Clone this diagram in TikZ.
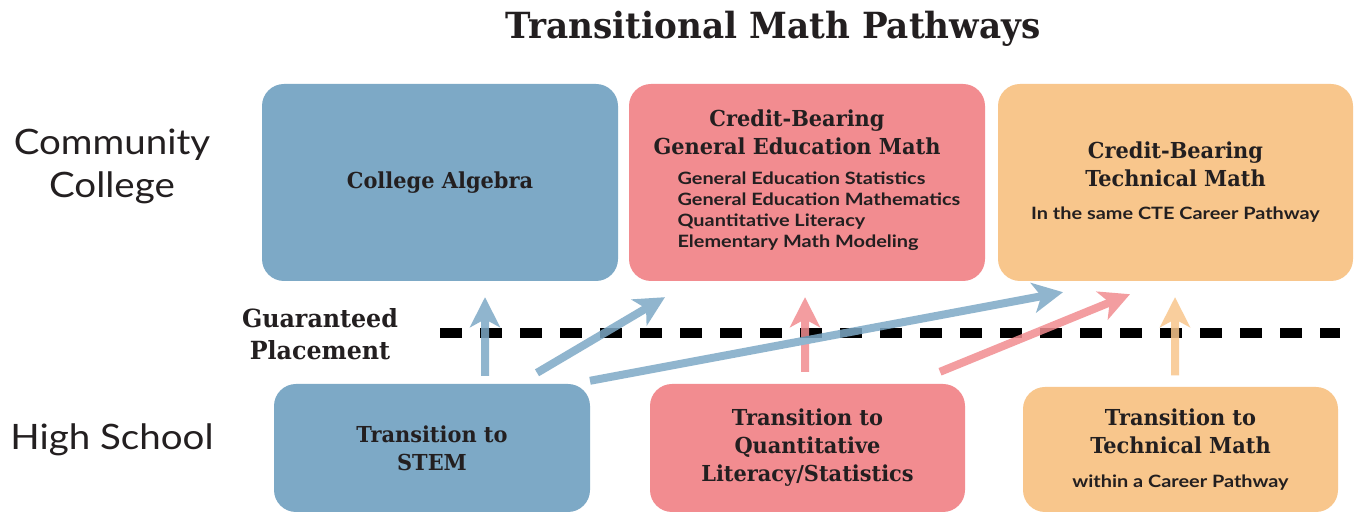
\documentclass[tikz,border=0pt]{standalone}
\usepackage{fontspec}
\usepackage{xcolor}
\usetikzlibrary{positioning,arrows.meta}
\newfontfamily\slabfont{DejaVu Serif}[FakeStretch=0.95]
\newfontfamily\listfont{Lato}[FakeStretch=1.17]
\newfontfamily\sidefont{Lato}[FakeStretch=1.1]
\definecolor{stemblue}{RGB}{125,169,198}
\definecolor{quantpink}{RGB}{242,140,144}
\definecolor{techorange}{RGB}{248,198,140}
\definecolor{inkbrown}{RGB}{35,31,32}

\begin{document}
\begin{tikzpicture}[x=1pt,y=1pt,
    path box/.style={rectangle,rounded corners=22pt,inner sep=0pt,align=center,text=inkbrown,
        font=\slabfont\bfseries\fontsize{22}{28}\selectfont},
    heading/.style={align=center,text=inkbrown,font=\slabfont\bfseries\fontsize{22}{28}\selectfont},
    sub text/.style={text=inkbrown,font=\listfont\bfseries\fontsize{17}{21}\selectfont},
    side label/.style={align=center,text=inkbrown,font=\sidefont\fontsize{35}{43}\selectfont},
    pathway/.style={-{Stealth[length=30pt,width=30pt,inset=8pt]},line width=8pt}]
\useasboundingbox (0,0) rectangle (1356,513);
\fill[white] (0,0) rectangle (1356,513);
%Title
    \node[heading,font=\slabfont\bfseries\fontsize{36}{40}\selectfont] (title) at (773,484) {Transitional Math Pathways};
%Row labels
    \node[side label] (cc) at (112,346.5) {Community\\College};
    \node[side label] (hs) at (112,73) {High School};
    \node[heading,font=\slabfont\bfseries\fontsize{25}{32}\selectfont] (gp) at (320,179) {Guaranteed\\Placement};
%Community college boxes
    \node[path box,fill=stemblue,minimum width=356pt,minimum height=197pt] (alg) at (440,330.5) {College Algebra};
    \node[path box,fill=quantpink,minimum width=356pt,minimum height=197pt] (gen) at (807,330.5) {};
    \node[heading] (genhead) at (797,381) {Credit-Bearing\\General Education Math};
    \node[sub text,align=left,anchor=west] (genlist) at (674,301.5) {General Education Statistics\\General Education Mathematics\\Quantitative Literacy\\Elementary Math Modeling};
    \node[path box,fill=techorange,minimum width=355pt,minimum height=197pt] (tech) at (1175.5,330.5)
        {Credit-Bearing\\Technical Math\\[5pt]{\listfont\bfseries\fontsize{17}{20}\selectfont In the same CTE Career Pathway}};
%High school boxes
    \node[path box,fill=stemblue,minimum width=316pt,minimum height=128pt] (stem) at (432,65) {Transition to\\STEM};
    \node[path box,fill=quantpink,minimum width=315pt,minimum height=128pt] (quant) at (807.5,65) {Transition to\\Quantitative\\Literacy/Statistics};
    \node[path box,fill=techorange,minimum width=315pt,minimum height=125pt] (techhs) at (1180.5,63.5)
        {Transition to\\Technical Math\\[6pt]{\listfont\bfseries\fontsize{17}{20}\selectfont within a Career Pathway}};
%Placement line
    \coordinate (dash start) at (440,180);
    \coordinate (dash end) at (1340,180);
    \draw[line width=10pt,dash pattern=on 22pt off 18pt] (dash start) -- (dash end);
%Pathways
\begin{scope}[opacity=0.85,transparency group]
    \draw[pathway,stemblue] ([xshift=53pt,yshift=8pt]stem.north) -- ([xshift=45pt,yshift=-16pt]alg.south);
    \draw[pathway,stemblue] ([xshift=105pt,yshift=11pt]stem.north) -- ([xshift=-142pt,yshift=-16pt]gen.south);
    \draw[pathway,quantpink] ([xshift=-2.5pt,yshift=12pt]quant.north) -- ([xshift=-2pt,yshift=-16pt]gen.south);
    \draw[pathway,quantpink] ([xshift=132.5pt,yshift=12pt]quant.north) -- ([xshift=-45.5pt,yshift=-13pt]tech.south);
    \draw[pathway,stemblue] ([xshift=158pt,yshift=3pt]stem.north) -- ([xshift=-112.5pt,yshift=-11pt]tech.south);
    \draw[pathway,techorange] ([xshift=-5.5pt,yshift=11.5pt]techhs.north) -- ([xshift=-0.5pt,yshift=-16pt]tech.south);
\end{scope}
\end{tikzpicture}
\end{document}
